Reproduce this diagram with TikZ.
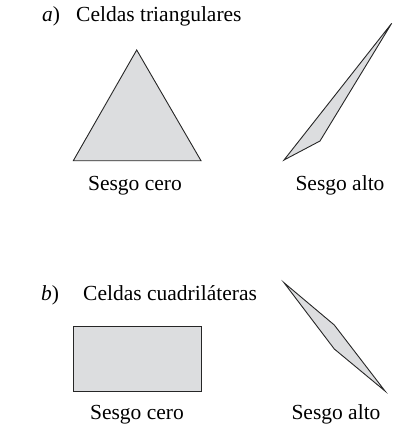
\documentclass[tikz,border=0pt]{standalone}
\usepackage{fontspec}
\setmainfont{Liberation Serif}
\begin{document}
\begin{tikzpicture}[x=1bp,y=-1bp,
  cell/.style={draw=black!85,fill=cellgray,line width=0.9bp,line join=miter},
  lbl/.style={inner sep=0pt,font=\fontsize{21.5bp}{25bp}\selectfont}]
\definecolor{cellgray}{HTML}{DCDDDF}
\useasboundingbox (0,0) rectangle (395,426);
% part a
\node[lbl,anchor=base west] (la) at (42,21) {\textit{a})};
\node[lbl,anchor=base west] (ta) at (76,21) {Celdas triangulares};
\coordinate (t1) at (136.7,50);
\coordinate (t2) at (73.3,160.7);
\coordinate (t3) at (201,160.7);
\draw[cell] (t1) -- (t2) -- (t3) -- cycle;
\coordinate (s1) at (284,160);
\coordinate (s2) at (320,141);
\coordinate (s3) at (391.7,23.3);
\draw[cell] (s1) -- (s2) -- (s3) -- cycle;
\node[lbl,anchor=base] (ca) at (135,190) {Sesgo cero};
\node[lbl,anchor=base] (aa) at (340,190) {Sesgo alto};
% part b
\node[lbl,anchor=base west] (lb) at (41,300) {\textit{b})};
\node[lbl,anchor=base west] (tb) at (83,300) {Celdas cuadriláteras};
\draw[cell] (73.3,326.7) rectangle (201.7,391);
\coordinate (q1) at (284,282.7);
\coordinate (q2) at (334.3,325);
\coordinate (q3) at (385,391);
\coordinate (q4) at (334.3,349);
\draw[cell] (q1) -- (q2) -- (q3) -- (q4) -- cycle;
\node[lbl,anchor=base] (cb) at (137,419) {Sesgo cero};
\node[lbl,anchor=base] (ab) at (336,419) {Sesgo alto};
\end{tikzpicture}
\end{document}
